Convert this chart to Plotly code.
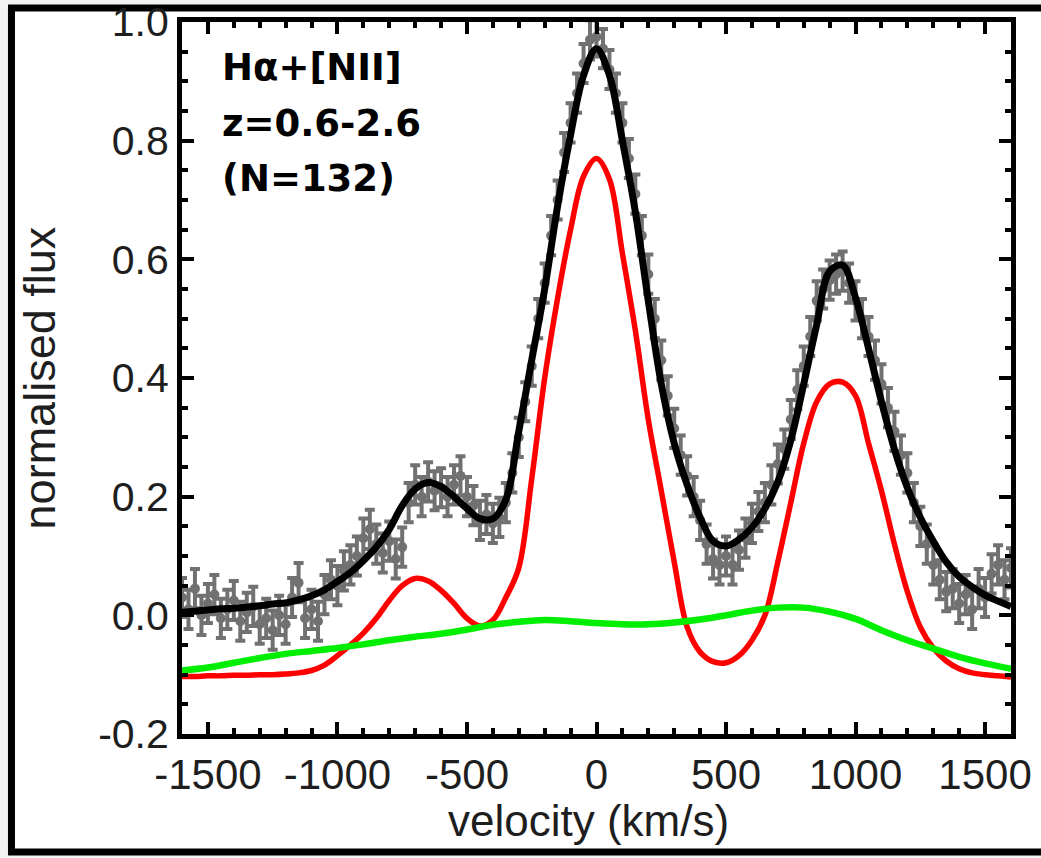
import plotly.graph_objects as go

# ---------------- data ----------------
# observed stacked spectrum (velocity grid, 25 km/s)
velocity = list(range(-1600, 1601, 25))
flux = [
    0.03, 0.01, 0.045, 0.00, 0.02, 0.035, -0.005, 0.01, 0.025, -0.01,
    0.005, 0.015, -0.015, -0.005, -0.025, 0.00, -0.015, 0.03, 0.055, -0.005,
    0.01, -0.01, 0.035, 0.06, 0.05, 0.075, 0.085, 0.10, 0.13, 0.145,
    0.12, 0.105, 0.125, 0.095, 0.115, 0.19, 0.22, 0.20, 0.225, 0.21,
    0.215, 0.20, 0.22, 0.235, 0.20, 0.185, 0.16, 0.17, 0.155, 0.165,
    0.19, 0.24, 0.30, 0.36, 0.42, 0.50, 0.56, 0.64, 0.70, 0.78,
    0.83, 0.88, 0.93, 0.97, 0.975, 0.955, 0.92, 0.88, 0.83, 0.77,
    0.71, 0.64, 0.575, 0.50, 0.43, 0.37, 0.315, 0.27, 0.235, 0.20,
    0.16, 0.12, 0.095, 0.085, 0.10, 0.085, 0.11, 0.13, 0.155, 0.175,
    0.19, 0.22, 0.255, 0.28, 0.33, 0.38, 0.42, 0.47, 0.53, 0.55,
    0.565, 0.575, 0.58, 0.56, 0.53, 0.50, 0.47, 0.43, 0.39, 0.35,
    0.31, 0.27, 0.24, 0.19, 0.15, 0.12, 0.085, 0.06, 0.04, 0.045,
    0.02, 0.035, 0.01, 0.045, 0.03, 0.07, 0.085, 0.06, 0.08,
]
flux_err = 0.033

# model curves (50 km/s grid)
model_v = list(range(-1600, 1601, 50))
total_fit = [
    0.005, 0.007, 0.009, 0.011, 0.012, 0.014, 0.016, 0.019, 0.021, 0.026,
    0.033, 0.043, 0.057, 0.072, 0.092, 0.115, 0.145, 0.185, 0.213, 0.224,
    0.217, 0.200, 0.180, 0.163, 0.163, 0.195, 0.31, 0.43, 0.55, 0.69,
    0.81, 0.91, 0.955, 0.91, 0.80, 0.68, 0.53, 0.39, 0.29, 0.22,
    0.165, 0.125, 0.117, 0.128, 0.148, 0.180, 0.225, 0.295, 0.39, 0.49,
    0.58, 0.59, 0.535, 0.45, 0.36, 0.28, 0.215, 0.165, 0.125, 0.090,
    0.065, 0.048, 0.034, 0.024, 0.015,
]
narrow_fit = [
    -0.103, -0.103, -0.102, -0.102, -0.101, -0.101, -0.100, -0.100, -0.099, -0.097,
    -0.093, -0.084, -0.068, -0.050, -0.030, -0.005, 0.025, 0.050, 0.062, 0.058,
    0.042, 0.020, -0.005, -0.018, -0.008, 0.030, 0.080, 0.23, 0.40, 0.535,
    0.65, 0.74, 0.77, 0.735, 0.61, 0.48, 0.33, 0.21, 0.09, -0.02,
    -0.062, -0.078, -0.080, -0.068, -0.042, 0.000, 0.09, 0.19, 0.29, 0.36,
    0.39, 0.393, 0.37, 0.29, 0.21, 0.12, 0.04, -0.02, -0.055, -0.077,
    -0.090, -0.097, -0.100, -0.102, -0.104,
]
broad_v = list(range(-1600, 1601, 100))
broad_fit = [
    -0.093, -0.088, -0.080, -0.072, -0.065, -0.060, -0.055, -0.049, -0.042, -0.036,
    -0.031, -0.024, -0.016, -0.011, -0.008, -0.010, -0.013, -0.015, -0.015, -0.012,
    -0.007, 0.000, 0.008, 0.013, 0.013, 0.006, -0.006, -0.025, -0.042, -0.056,
    -0.070, -0.081, -0.090,
]

x_tickvals = [-1500, -1000, -500, 0, 500, 1000, 1500]
x_ticktext = ["-1500", "-1000", "-500", "0", "500", "1000", "1500"]
y_tickvals = [-0.2, 0.0, 0.2, 0.4, 0.6, 0.8, 1.0]
y_ticktext = ["-0.2", "0.0", "0.2", "0.4", "0.6", "0.8", "1.0"]
label_lines = ["Hα+[NII]", "z=0.6-2.6", "(N=132)"]

# ---------------- figure ----------------
fig = go.Figure()
gray = "#717171"
fig.add_trace(go.Scatter(
    x=velocity, y=flux, mode="markers",
    marker=dict(color=gray, size=10),
    error_y=dict(type="constant", value=flux_err, color=gray, thickness=4, width=5),
    showlegend=False,
))
fig.add_trace(go.Scatter(x=model_v, y=narrow_fit, mode="lines",
                         line=dict(color="#ff0000", width=5.5, shape="spline"),
                         showlegend=False))
fig.add_trace(go.Scatter(x=broad_v, y=broad_fit, mode="lines",
                         line=dict(color="#00ee00", width=6.5, shape="spline"),
                         showlegend=False))
fig.add_trace(go.Scatter(x=model_v, y=total_fit, mode="lines",
                         line=dict(color="#000000", width=7, shape="spline"),
                         showlegend=False))

axis_common = dict(
    showline=True, linewidth=5, linecolor="black", mirror="allticks",
    ticks="inside", ticklen=12, tickwidth=4, tickcolor="black",
    showgrid=False, zeroline=False, automargin=False,
    ticklabeloverflow="allow", ticklabelstandoff=0,
)
fig.update_xaxes(
    range=[-1600, 1600], tickmode="array", tickvals=x_tickvals, ticktext=x_ticktext,
    tickfont=dict(family="Liberation Sans, Arial", size=42, color="#1e1e1e"),
    minor=dict(tickmode="linear", tick0=0, dtick=100, ticks="inside",
               ticklen=6, tickwidth=4, tickcolor="black", showgrid=False),
    **axis_common,
)
fig.update_yaxes(
    range=[-0.2, 1.0], tickmode="array", tickvals=y_tickvals, ticktext=y_ticktext,
    tickfont=dict(family="Liberation Sans, Arial", size=41, color="#1e1e1e"),
    minor=dict(tickmode="linear", tick0=0, dtick=0.05, ticks="inside",
               ticklen=6, tickwidth=4, tickcolor="black", showgrid=False),
    **axis_common,
)

# axis titles
fig.add_annotation(text="velocity (km/s)", xref="paper", yref="paper",
                   x=0.49, y=-0.122, xanchor="center", yanchor="middle",
                   showarrow=False,
                   font=dict(family="Liberation Sans, Arial", size=44, color="#1e1e1e"))
fig.add_annotation(text="normalised flux", xref="paper", yref="paper",
                   x=-0.172, y=0.5, xanchor="center", yanchor="middle",
                   textangle=-90, showarrow=False,
                   font=dict(family="Liberation Sans, Arial", size=45, color="#1e1e1e"))

# label block
for txt, yy in zip(label_lines, [0.936, 0.858, 0.780]):
    fig.add_annotation(text="<b>" + txt + "</b>", xref="paper", yref="paper",
                       x=0.046, y=yy, xanchor="left", yanchor="middle",
                       showarrow=False,
                       font=dict(family="DejaVu Sans", size=37, color="black"))

# outer frame
fig.add_shape(type="rect", xref="paper", yref="paper",
              x0=-0.2057, x1=1.06, y0=-0.1657, y1=1.0197,
              line=dict(color="black", width=7), fillcolor="white", layer="below")

fig.update_layout(
    width=1041, height=858,
    margin=dict(l=182, r=30, t=22, b=124, autoexpand=False),
    paper_bgcolor="#f3f3f3", plot_bgcolor="white",
    showlegend=False,
)

fig.write_html("out.html")
